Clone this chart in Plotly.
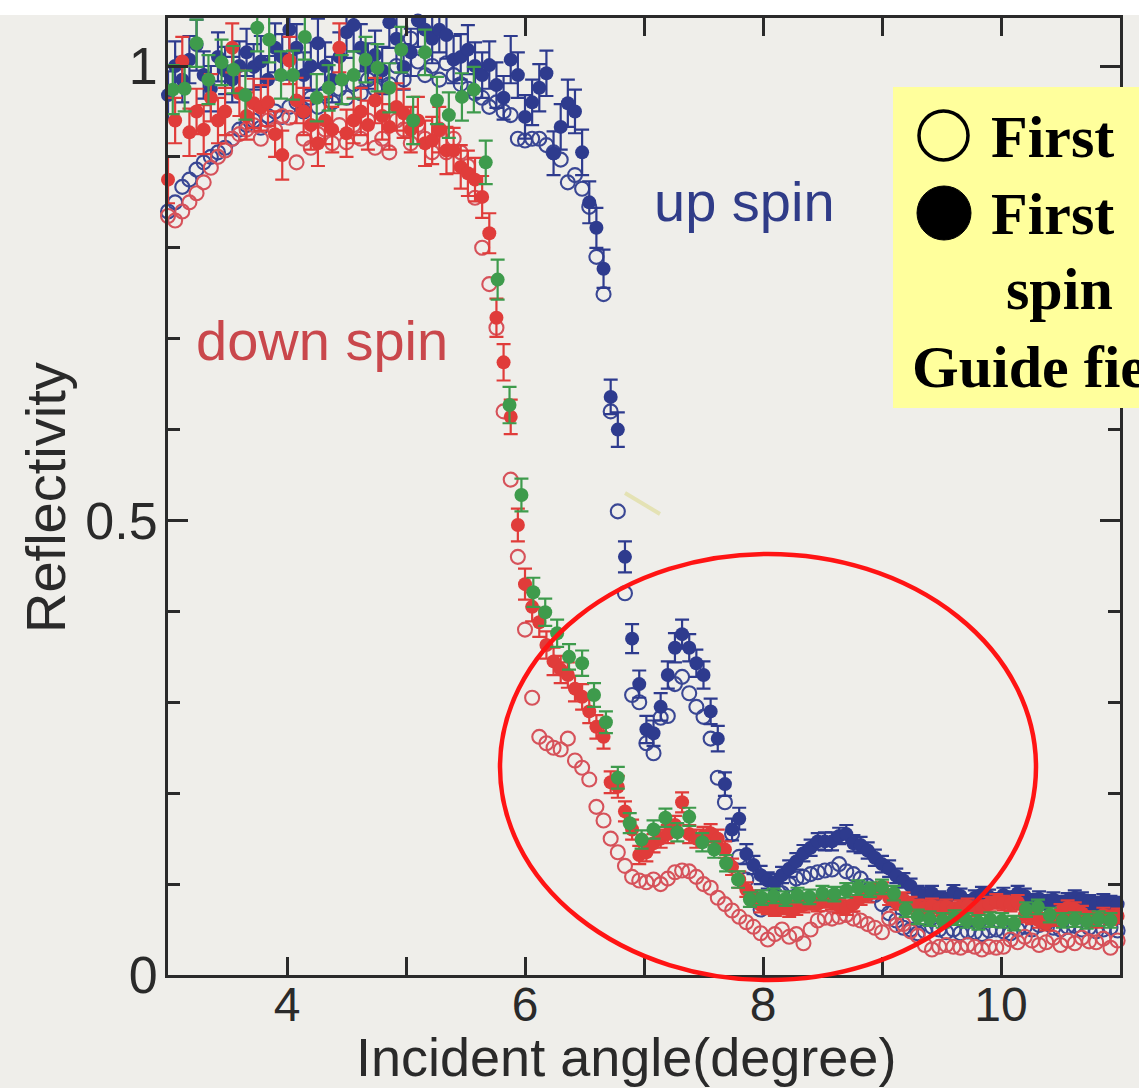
import plotly.graph_objects as go

# ---------------------------------------------------------------------------
# Data: reflectivity versus incident angle (degrees)
# ---------------------------------------------------------------------------
angle = [
    3.00, 3.06, 3.12, 3.18, 3.24, 3.30, 3.36, 3.42, 3.48, 3.54,
    3.60, 3.66, 3.72, 3.78, 3.84, 3.90, 3.96, 4.02, 4.08, 4.14,
    4.20, 4.26, 4.32, 4.38, 4.44, 4.50, 4.56, 4.62, 4.68, 4.74,
    4.80, 4.86, 4.92, 4.98, 5.04, 5.10, 5.16, 5.22, 5.28, 5.34,
    5.40, 5.46, 5.52, 5.58, 5.64, 5.70, 5.76, 5.82, 5.88, 5.94,
    6.00, 6.06, 6.12, 6.18, 6.24, 6.30, 6.36, 6.42, 6.48, 6.54,
    6.60, 6.66, 6.72, 6.78, 6.84, 6.90, 6.96, 7.02, 7.08, 7.14,
    7.20, 7.26, 7.32, 7.38, 7.44, 7.50, 7.56, 7.62, 7.68, 7.74,
    7.80, 7.86, 7.92, 7.98, 8.04, 8.10, 8.16, 8.22, 8.28, 8.34,
    8.40, 8.46, 8.52, 8.58, 8.64, 8.70, 8.76, 8.82, 8.88, 8.94,
    9.00, 9.06, 9.12, 9.18, 9.24, 9.30, 9.36, 9.42, 9.48, 9.54,
    9.60, 9.66, 9.72, 9.78, 9.84, 9.90, 9.96, 10.02, 10.08, 10.14,
    10.20, 10.26, 10.32, 10.38, 10.44, 10.50, 10.56, 10.62, 10.68, 10.74,
    10.80, 10.86, 10.92, 10.98,
]

up_open = [
    0.84, 0.85, 0.867, 0.875, 0.886, 0.894, 0.90, 0.905, 0.91, 0.92,
    0.93, 0.935, 0.94, 0.932, 0.945, 0.95, 0.944, 0.955, 0.96, 0.95,
    0.965, 0.955, 0.97, 0.96, 0.975, 0.965, 0.98, 0.97, 0.985, 0.975,
    0.99, 0.98, 1.00, 0.985, 1.03, 1.005, 0.99, 1.00, 0.985, 1.003,
    0.99, 0.98, 0.975, 0.97, 0.965, 0.955, 0.96, 0.95, 0.946, 0.92,
    0.918, 0.92, 0.92, 0.913, 0.905, 0.897, 0.872, 0.88, 0.865, 0.845,
    0.79, 0.749, 0.62, 0.51, 0.42, 0.308, 0.30, 0.255, 0.244, 0.283,
    0.285, 0.32, 0.328, 0.31, 0.295, 0.284, 0.26, 0.217, 0.19, 0.155,
    0.13, 0.105, 0.085, 0.072, 0.075, 0.082, 0.09, 0.10, 0.106, 0.108,
    0.111, 0.113, 0.115, 0.116, 0.122, 0.114, 0.111, 0.106, 0.098, 0.088,
    0.078, 0.068, 0.06, 0.052, 0.05, 0.046, 0.048, 0.053, 0.05, 0.047,
    0.05, 0.046, 0.048, 0.047, 0.045, 0.049, 0.05, 0.048, 0.046, 0.05,
    0.053, 0.05, 0.055, 0.057, 0.052, 0.05, 0.053, 0.054, 0.05, 0.052,
    0.048, 0.05, 0.052, 0.049,
]

down_open = [
    0.835, 0.83, 0.84, 0.85, 0.86, 0.872, 0.888, 0.90, 0.907, 0.92,
    0.925, 0.93, 0.935, 0.92, 0.94, 0.93, 0.945, 0.943, 0.894, 0.92,
    0.91, 0.925, 0.93, 0.915, 0.935, 0.916, 0.935, 0.92, 0.94, 0.91,
    0.92, 0.905, 0.94, 0.93, 0.915, 0.935, 0.92, 0.905, 0.93, 0.905,
    0.92, 0.905, 0.89, 0.855, 0.80, 0.76, 0.712, 0.62, 0.545, 0.46,
    0.38, 0.305, 0.262, 0.255, 0.25, 0.248, 0.26, 0.236, 0.228, 0.215,
    0.185, 0.17, 0.15, 0.135, 0.12, 0.108, 0.104, 0.102, 0.105, 0.10,
    0.106, 0.113, 0.115, 0.114, 0.108, 0.10, 0.096, 0.085, 0.078, 0.071,
    0.064, 0.058, 0.053, 0.046, 0.039, 0.045, 0.05, 0.042, 0.045, 0.035,
    0.05, 0.06, 0.063, 0.062, 0.064, 0.066, 0.062, 0.06, 0.056, 0.052,
    0.047, 0.062, 0.055, 0.056, 0.048, 0.043, 0.033, 0.028, 0.031, 0.033,
    0.031, 0.03, 0.033, 0.031, 0.028, 0.031, 0.03, 0.031, 0.039, 0.036,
    0.042, 0.038, 0.033, 0.036, 0.041, 0.033, 0.038, 0.035, 0.041, 0.037,
    0.036, 0.04, 0.03, 0.038,
]

up_filled = [
    0.968, 1.00, 0.985, 1.007, 1.023, 0.99, 0.975, 1.01, 0.995, 0.985,
    1.00, 1.015, 0.999, 1.005, 0.985, 1.02, 1.01, 1.04, 1.02, 0.99,
    1.00, 1.025, 1.00, 0.985, 1.01, 1.037, 1.045, 1.02, 1.00, 1.012,
    0.995, 1.048, 1.03, 0.999, 1.015, 1.05, 1.04, 1.03, 1.04, 1.034,
    1.007, 1.01, 1.018, 1.00, 0.99, 1.001, 0.979, 0.965, 1.007, 0.99,
    0.944, 0.96, 0.976, 0.992, 0.904, 0.933, 0.959, 0.95, 0.905, 0.85,
    0.822, 0.777, 0.636, 0.60, 0.46, 0.37, 0.32, 0.27, 0.266, 0.295,
    0.33, 0.36, 0.375, 0.36, 0.343, 0.33, 0.29, 0.26, 0.21, 0.16,
    0.172, 0.133, 0.121, 0.11, 0.104, 0.102, 0.11, 0.117, 0.125, 0.134,
    0.14, 0.147, 0.147, 0.147, 0.153, 0.155, 0.145, 0.143, 0.137, 0.129,
    0.122, 0.117, 0.109, 0.104, 0.098, 0.09, 0.088, 0.09, 0.084, 0.082,
    0.091, 0.087, 0.08, 0.085, 0.089, 0.086, 0.082, 0.088, 0.084, 0.09,
    0.087, 0.081, 0.084, 0.08, 0.083, 0.079, 0.082, 0.085, 0.083, 0.08,
    0.078, 0.081, 0.079, 0.078,
]

up_filled_err = [
    0.026, 0.027, 0.025, 0.026, 0.028, 0.026, 0.025, 0.027, 0.026, 0.025,
    0.027, 0.026, 0.025, 0.028, 0.026, 0.027, 0.025, 0.028, 0.026, 0.025,
    0.026, 0.027, 0.026, 0.025, 0.027, 0.028, 0.029, 0.026, 0.025, 0.027,
    0.026, 0.028, 0.027, 0.025, 0.026, 0.029, 0.028, 0.027, 0.025, 0.026,
    0.026, 0.025, 0.027, 0.026, 0.025, 0.026, 0.025, 0.024, 0.026, 0.025,
    0.024, 0.025, 0.026, 0.025, 0.024, 0.025, 0.026, 0.024, 0.025, 0.023,
    0.022, 0.021, 0.019, 0.019, 0.017, 0.016, 0.015, 0.015, 0.014, 0.015,
    0.015, 0.016, 0.016, 0.015, 0.015, 0.015, 0.014, 0.014, 0.013, 0.012,
    0.012, 0.011, 0.010, 0.010, 0.009, 0.009, 0.009, 0.009, 0.009, 0.009,
    0.009, 0.009, 0.010, 0.010, 0.009, 0.010, 0.009, 0.009, 0.009, 0.009,
    0.009, 0.009, 0.008, 0.008, 0.008, 0.008, 0.008, 0.008, 0.008, 0.008,
    0.008, 0.008, 0.008, 0.008, 0.008, 0.008, 0.008, 0.008, 0.008, 0.008,
    0.008, 0.008, 0.008, 0.008, 0.008, 0.008, 0.008, 0.008, 0.008, 0.008,
    0.008, 0.008, 0.008, 0.008,
]

down_filled = [
    0.875, 0.94, 1.005, 0.927, 0.95, 0.93, 0.965, 0.94, 0.95, 1.02,
    0.97, 0.945, 0.959, 0.954, 0.96, 0.925, 0.902, 1.006, 0.962, 0.95,
    0.935, 0.915, 0.94, 0.93, 1.02, 0.926, 0.94, 0.95, 0.935, 0.962,
    0.945, 0.933, 0.955, 0.948, 0.93, 0.94, 0.915, 0.918, 0.93, 0.907,
    0.907, 0.889, 0.882, 0.875, 0.856, 0.816, 0.723, 0.674, 0.614, 0.495,
    0.43, 0.405, 0.388, 0.363, 0.345, 0.336, 0.33, 0.315, 0.306, 0.29,
    0.273, 0.262, 0.212, 0.207, 0.18, 0.16, 0.132, 0.135, 0.145, 0.15,
    0.155, 0.165, 0.19, 0.155, 0.15, 0.153, 0.156, 0.15, 0.138, 0.119,
    0.105, 0.094, 0.085, 0.077, 0.075, 0.073, 0.075, 0.072, 0.074, 0.077,
    0.08, 0.078, 0.082, 0.08, 0.076, 0.074, 0.078, 0.085, 0.088, 0.092,
    0.094, 0.085, 0.08, 0.083, 0.078, 0.075, 0.074, 0.076, 0.073, 0.075,
    0.072, 0.074, 0.076, 0.073, 0.074, 0.078, 0.081, 0.079, 0.078, 0.08,
    0.066, 0.064, 0.06, 0.057, 0.062, 0.07, 0.074, 0.072, 0.068, 0.062,
    0.06, 0.066, 0.063, 0.065,
]

down_filled_err = [
    0.026, 0.025, 0.027, 0.026, 0.025, 0.027, 0.026, 0.025, 0.026, 0.027,
    0.025, 0.026, 0.027, 0.025, 0.026, 0.025, 0.027, 0.026, 0.025, 0.026,
    0.027, 0.025, 0.026, 0.025, 0.027, 0.026, 0.025, 0.026, 0.027, 0.025,
    0.026, 0.025, 0.026, 0.027, 0.025, 0.026, 0.025, 0.026, 0.025, 0.026,
    0.025, 0.024, 0.025, 0.024, 0.023, 0.022, 0.021, 0.020, 0.019, 0.018,
    0.017, 0.016, 0.016, 0.015, 0.015, 0.015, 0.014, 0.014, 0.014, 0.013,
    0.013, 0.013, 0.012, 0.012, 0.011, 0.011, 0.010, 0.010, 0.010, 0.010,
    0.010, 0.010, 0.011, 0.010, 0.010, 0.010, 0.010, 0.010, 0.009, 0.009,
    0.009, 0.008, 0.008, 0.008, 0.008, 0.008, 0.008, 0.008, 0.008, 0.008,
    0.008, 0.008, 0.008, 0.008, 0.008, 0.008, 0.008, 0.008, 0.008, 0.008,
    0.008, 0.008, 0.008, 0.008, 0.008, 0.008, 0.008, 0.008, 0.008, 0.008,
    0.008, 0.008, 0.008, 0.008, 0.008, 0.008, 0.008, 0.008, 0.008, 0.008,
    0.008, 0.008, 0.008, 0.008, 0.008, 0.008, 0.008, 0.008, 0.008, 0.008,
    0.008, 0.008, 0.008, 0.008,
]

# The green series is sampled on a coarser angle grid
angle_green = [
    2.94, 3.04, 3.14, 3.24, 3.34, 3.45, 3.55, 3.65, 3.75, 3.85,
    3.95, 4.05, 4.15, 4.25, 4.35, 4.46, 4.56, 4.66, 4.76, 4.86,
    4.96, 5.06, 5.16, 5.26, 5.36, 5.47, 5.57, 5.67, 5.77, 5.87,
    5.97, 6.07, 6.17, 6.27, 6.37, 6.48, 6.58, 6.68, 6.78, 6.88,
    6.98, 7.08, 7.18, 7.28, 7.38, 7.49, 7.59, 7.69, 7.79, 7.89,
    7.99, 8.09, 8.19, 8.29, 8.39, 8.50, 8.60, 8.70, 8.80, 8.90,
    9.00, 9.10, 9.20, 9.30, 9.40, 9.51, 9.61, 9.71, 9.81, 9.91,
    10.01, 10.11, 10.21, 10.31, 10.41, 10.52, 10.62, 10.72, 10.82, 10.92,
]

green_filled = [
    0.935, 0.974, 0.975, 1.025, 0.985, 1.004, 0.996, 0.968, 1.042, 1.029,
    0.99, 0.99, 1.032, 0.965, 0.976, 0.985, 0.99, 1.007, 0.998, 0.976,
    1.018, 0.94, 1.015, 0.962, 0.946, 0.966, 0.974, 0.894, 0.765, 0.627,
    0.528, 0.421, 0.399, 0.376, 0.35, 0.343, 0.308, 0.278, 0.217, 0.167,
    0.149, 0.16, 0.173, 0.157, 0.174, 0.146, 0.138, 0.123, 0.105, 0.083,
    0.085, 0.087, 0.084, 0.088, 0.086, 0.09, 0.089, 0.093, 0.096, 0.094,
    0.097, 0.09, 0.072, 0.064, 0.062, 0.06, 0.063, 0.06, 0.058, 0.061,
    0.06, 0.057, 0.072, 0.075, 0.066, 0.06, 0.061, 0.059, 0.062, 0.06,
]

green_filled_err = [
    0.026, 0.027, 0.025, 0.026, 0.027, 0.025, 0.026, 0.027, 0.026, 0.025,
    0.026, 0.027, 0.025, 0.026, 0.025, 0.027, 0.026, 0.025, 0.026, 0.027,
    0.025, 0.026, 0.025, 0.026, 0.025, 0.026, 0.025, 0.024, 0.022, 0.020,
    0.018, 0.016, 0.015, 0.015, 0.014, 0.014, 0.013, 0.012, 0.012, 0.011,
    0.010, 0.010, 0.010, 0.010, 0.010, 0.010, 0.009, 0.009, 0.009, 0.008,
    0.008, 0.008, 0.008, 0.008, 0.008, 0.008, 0.008, 0.008, 0.008, 0.008,
    0.008, 0.008, 0.008, 0.008, 0.008, 0.008, 0.008, 0.008, 0.008, 0.008,
    0.008, 0.008, 0.008, 0.008, 0.008, 0.008, 0.008, 0.008, 0.008, 0.008,
]

x_label_ticks = [4, 6, 8, 10]
y_label_ticks = [0, 0.5, 1]

# ---------------------------------------------------------------------------
# Styling
# ---------------------------------------------------------------------------
W, H = 1139, 1088
L, R, T, B = 168, 1120, 18, 975          # plot-area edges in pixels
PW, PH = R - L, B - T

BG = "#efeeea"
AXIS = "#2a2a2a"
BLUE = "#2e3b8e"
BLUE_OPEN = "#3a4794"
RED = "#e03c3a"
RED_OPEN = "#d6525a"
GREEN = "#3e9b4c"
SANS = "Liberation Sans, Arial, Helvetica, sans-serif"
SERIF = "Liberation Serif, Times New Roman, serif"


def ax(p):
    return (p - L) / PW


def ay(p):
    return (B - p) / PH


def open_trace(x, y, color, name):
    return go.Scatter(
        x=x, y=y, mode="markers", name=name, cliponaxis=False,
        marker=dict(symbol="circle-open", size=14, color=color,
                    line=dict(width=2.1, color=color)),
    )


def filled_trace(x, y, err, color, name):
    return go.Scatter(
        x=x, y=y, mode="markers", name=name, cliponaxis=False,
        marker=dict(symbol="circle", size=14, color=color,
                    line=dict(width=0)),
        error_y=dict(type="data", array=err, visible=True,
                     color=color, thickness=2.2, width=7),
    )


fig = go.Figure()
fig.add_trace(open_trace(angle, up_open, BLUE_OPEN, "up spin (open)"))
fig.add_trace(open_trace(angle, down_open, RED_OPEN, "down spin (open)"))
fig.add_trace(filled_trace(angle, up_filled, up_filled_err, BLUE, "up spin (filled)"))
fig.add_trace(filled_trace(angle, down_filled, down_filled_err, RED, "down spin (filled)"))
fig.add_trace(filled_trace(angle_green, green_filled, green_filled_err, GREEN, "green (filled)"))

tick_common = dict(ticks="inside", tickwidth=2.5, tickcolor=AXIS,
                   showline=True, linewidth=3, linecolor=AXIS,
                   mirror="ticks", showgrid=False, zeroline=False)

fig.update_xaxes(range=[3, 11], tickmode="array", tickvals=x_label_ticks,
                 ticklen=18, ticklabelstandoff=-15,
                 tickfont=dict(family=SANS, size=48, color=AXIS),
                 minor=dict(dtick=1, tick0=0, ticks="inside", ticklen=18,
                            tickwidth=2.5, tickcolor=AXIS, showgrid=False),
                 **tick_common)
fig.update_yaxes(range=[0, (B - T) / 909], tickmode="array",
                 tickvals=y_label_ticks, ticklen=20, ticklabelstandoff=-3,
                 tickfont=dict(family=SANS, size=52, color=AXIS),
                 minor=dict(dtick=0.1, tick0=0, ticks="inside", ticklen=12,
                            tickwidth=2.5, tickcolor=AXIS, showgrid=False),
                 **tick_common)

shapes = [
    # white strip along the top edge of the page
    dict(type="rect", xref="paper", yref="paper", x0=-0.3, x1=1.1,
         y0=ay(15), y1=ay(-10), fillcolor="white", line=dict(width=0),
         layer="below"),
    # faint streak near the up-spin edge
    dict(type="line", xref="paper", yref="paper", x0=ax(625), y0=ay(493),
         x1=ax(660), y1=ay(514), line=dict(color="#e4e2b4", width=4),
         layer="below"),
    # highlight ellipse around the oscillation region
    dict(type="circle", xref="paper", yref="paper", x0=ax(500), x1=ax(1036),
         y0=ay(980), y1=ay(554), line=dict(color="#ff1414", width=4.5),
         layer="above"),
    # yellow key box
    dict(type="rect", xref="paper", yref="paper", x0=ax(893), x1=ax(1160),
         y0=ay(408), y1=ay(87), fillcolor="#ffff9c", line=dict(width=0),
         layer="above"),
    dict(type="circle", xref="paper", yref="paper", x0=ax(919), x1=ax(968),
         y0=ay(160), y1=ay(111), line=dict(color="black", width=3.5),
         fillcolor="rgba(0,0,0,0)", layer="above"),
    dict(type="circle", xref="paper", yref="paper", x0=ax(917), x1=ax(971),
         y0=ay(240), y1=ay(186), line=dict(color="black", width=1),
         fillcolor="black", layer="above"),
]

key_font = dict(family=SERIF, size=60, color="black", weight="bold")
annotations = [
    dict(text="up spin", x=ax(652), y=ay(202), xanchor="left", yanchor="middle",
         font=dict(family=SANS, size=56, color="#303c88")),
    dict(text="down spin", x=ax(194), y=ay(340), xanchor="left", yanchor="middle",
         font=dict(family=SANS, size=56, color="#c9474c")),
    dict(text="Reflectivity", x=ax(45), y=ay(497), textangle=-90,
         xanchor="center", yanchor="middle",
         font=dict(family=SANS, size=56, color=AXIS)),
    dict(text="Incident angle(degree)", x=ax(626), y=ay(1057),
         xanchor="center", yanchor="middle",
         font=dict(family=SANS, size=54, color=AXIS)),
    dict(text="First", x=ax(989), y=ay(137), xanchor="left", yanchor="middle",
         font=key_font),
    dict(text="First", x=ax(989), y=ay(214), xanchor="left", yanchor="middle",
         font=key_font),
    dict(text="spin", x=ax(1004), y=ay(289), xanchor="left", yanchor="middle",
         font=key_font),
    dict(text="Guide field", x=ax(910), y=ay(367), xanchor="left",
         yanchor="middle", font=key_font),
]
for a in annotations:
    a.update(xref="paper", yref="paper", showarrow=False)

fig.update_layout(
    width=W, height=H,
    margin=dict(l=L, r=W - R, t=T, b=H - B),
    paper_bgcolor=BG, plot_bgcolor=BG,
    showlegend=False,
    shapes=shapes,
    annotations=annotations,
)

fig.write_html("out.html")
